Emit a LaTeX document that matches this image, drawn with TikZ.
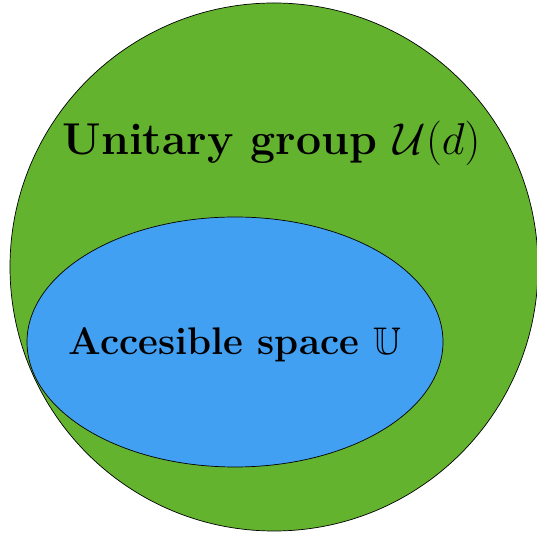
\RequirePackage{fix-cm}
\documentclass[tikz,border=0pt]{standalone}
\usepackage{amssymb}
\definecolor{groupgreen}{RGB}{99,179,46}
\definecolor{spaceblue}{RGB}{66,160,242}
\tikzset{
  region/.style={draw=black, line width=0.7pt},
  biglabel/.style={anchor=base, inner sep=0pt, font=\fontsize{44.6}{54}\selectfont\bfseries},
  smalllabel/.style={anchor=base, inner sep=0pt, font=\fontsize{38.5}{48}\selectfont\bfseries}
}
\begin{document}
\begin{tikzpicture}[x=1pt,y=1pt]
\useasboundingbox (0,0) rectangle (537,537);
\clip (0,0) rectangle (537,537);
\fill[groupgreen] (274,270) circle (264);
\draw[region] (274,270) circle (264);
\fill[spaceblue] (235,195) ellipse [x radius=208, y radius=125];
\draw[region] (235,195) ellipse [x radius=208, y radius=125];
\node[biglabel] (grouplabel) at (271.5,382) {Unitary group $\mathcal{U}(d)$};
\node[smalllabel] (spacelabel) at (235,182) {Accesible space $\mathbb{U}$};
\end{tikzpicture}
\end{document}
